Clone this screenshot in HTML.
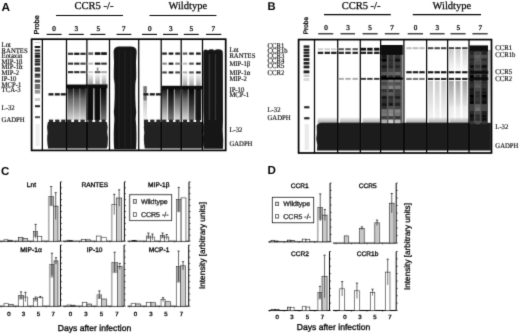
<!DOCTYPE html><html><head><meta charset="utf-8"><style>html,body{margin:0;padding:0;background:#fff;width:520px;height:334px;overflow:hidden}svg{display:block}</style></head><body>
<svg width="520" height="334" viewBox="0 0 520 334" text-rendering="geometricPrecision">
<defs><filter id="bl" x="-10%" y="-10%" width="120%" height="120%"><feGaussianBlur stdDeviation="0.5"/></filter><filter id="bl2" x="-10%" y="-10%" width="120%" height="120%"><feGaussianBlur stdDeviation="1"/></filter><filter id="tx" x="-5%" y="-5%" width="110%" height="110%"><feGaussianBlur stdDeviation="0.25"/></filter><linearGradient id="fd" x1="0" y1="0" x2="0" y2="1"><stop offset="0" stop-color="#000" stop-opacity="0.85"/><stop offset="0.35" stop-color="#000" stop-opacity="0.45"/><stop offset="1" stop-color="#000" stop-opacity="0.1"/></linearGradient><linearGradient id="fd2" x1="0" y1="0" x2="0" y2="1"><stop offset="0" stop-color="#000" stop-opacity="0.35"/><stop offset="1" stop-color="#000" stop-opacity="0.05"/></linearGradient><linearGradient id="fd3" x1="0" y1="0" x2="0" y2="1"><stop offset="0" stop-color="#000" stop-opacity="0.95"/><stop offset="0.5" stop-color="#000" stop-opacity="0.75"/><stop offset="1" stop-color="#000" stop-opacity="0.5"/></linearGradient><linearGradient id="fd4" x1="0" y1="0" x2="0" y2="1"><stop offset="0" stop-color="#000" stop-opacity="0.2"/><stop offset="1" stop-color="#000" stop-opacity="0.03"/></linearGradient><linearGradient id="fu" x1="0" y1="0" x2="0" y2="1"><stop offset="0" stop-color="#000" stop-opacity="0.05"/><stop offset="1" stop-color="#000" stop-opacity="0.35"/></linearGradient><filter id="gb" x="0" y="0" width="520" height="334" filterUnits="userSpaceOnUse"><feConvolveMatrix order="3" kernelMatrix="1 6 1 6 36 6 1 6 1" divisor="64" edgeMode="duplicate"/></filter></defs>
<rect width="520" height="334" fill="#fff"/>
<g filter="url(#gb)">
<text x="1.4" y="11" font-size="11.8" font-family='"Liberation Sans", sans-serif' font-weight="bold" text-anchor="start" >A</text>
<text x="74.6" y="8.9" font-size="10.5" font-family='"Liberation Serif", serif' font-weight="normal" text-anchor="start" stroke="#000" stroke-width="0.25">CCR5 -/-</text>
<text x="168.4" y="9.2" font-size="10.5" font-family='"Liberation Serif", serif' font-weight="normal" text-anchor="start" stroke="#000" stroke-width="0.25">Wildtype</text>
<line x1="56" y1="15.5" x2="123" y2="15.5" stroke="#000" stroke-width="1.1" />
<line x1="149.5" y1="15.5" x2="216.4" y2="15.5" stroke="#000" stroke-width="1.1" />
<text x="54" y="30.7" font-size="7.2" font-family='"Liberation Serif", serif' font-weight="normal" text-anchor="middle" stroke="#000" stroke-width="0.3">0</text>
<text x="76.2" y="30.7" font-size="7.2" font-family='"Liberation Serif", serif' font-weight="normal" text-anchor="middle" stroke="#000" stroke-width="0.3">3</text>
<text x="98.2" y="30.7" font-size="7.2" font-family='"Liberation Serif", serif' font-weight="normal" text-anchor="middle" stroke="#000" stroke-width="0.3">5</text>
<text x="123.8" y="30.7" font-size="7.2" font-family='"Liberation Serif", serif' font-weight="normal" text-anchor="middle" stroke="#000" stroke-width="0.3">7</text>
<text x="149.8" y="30.7" font-size="7.2" font-family='"Liberation Serif", serif' font-weight="normal" text-anchor="middle" stroke="#000" stroke-width="0.3">0</text>
<text x="170.8" y="30.7" font-size="7.2" font-family='"Liberation Serif", serif' font-weight="normal" text-anchor="middle" stroke="#000" stroke-width="0.3">3</text>
<text x="191.2" y="30.7" font-size="7.2" font-family='"Liberation Serif", serif' font-weight="normal" text-anchor="middle" stroke="#000" stroke-width="0.3">5</text>
<text x="213.3" y="30.7" font-size="7.2" font-family='"Liberation Serif", serif' font-weight="normal" text-anchor="middle" stroke="#000" stroke-width="0.3">7</text>
<line x1="46.6" y1="34.4" x2="61.6" y2="34.4" stroke="#000" stroke-width="1.1" />
<line x1="68.8" y1="34.4" x2="83.8" y2="34.4" stroke="#000" stroke-width="1.1" />
<line x1="90.4" y1="34.4" x2="105.4" y2="34.4" stroke="#000" stroke-width="1.1" />
<line x1="116.6" y1="34.4" x2="131.3" y2="34.4" stroke="#000" stroke-width="1.1" />
<line x1="142" y1="34.4" x2="157" y2="34.4" stroke="#000" stroke-width="1.1" />
<line x1="163" y1="34.4" x2="178" y2="34.4" stroke="#000" stroke-width="1.1" />
<line x1="183.8" y1="34.4" x2="198.8" y2="34.4" stroke="#000" stroke-width="1.1" />
<line x1="206" y1="34.4" x2="221.3" y2="34.4" stroke="#000" stroke-width="1.1" />
<text transform="translate(39.4,34.4) rotate(-90)" font-size="7.2" font-family='"Liberation Sans", sans-serif' stroke="#000" stroke-width="0.3">Probe</text>
<g>
<rect x="34.80" y="42.00" width="5.40" height="1.00" fill="#c8c8c8" />
<rect x="34.80" y="46.00" width="5.40" height="2.00" fill="#191919" />
<rect x="34.80" y="49.50" width="5.40" height="2.00" fill="#1e1e1e" />
<rect x="34.80" y="52.60" width="5.40" height="2.00" fill="#282828" />
<rect x="34.80" y="55.00" width="5.40" height="2.80" fill="#1e1e1e" />
<rect x="34.80" y="58.70" width="5.40" height="2.00" fill="#282828" />
<rect x="34.80" y="60.80" width="5.40" height="1.80" fill="#282828" />
<rect x="34.80" y="63.20" width="5.40" height="2.40" fill="#232323" />
<rect x="34.80" y="67.40" width="5.40" height="2.00" fill="#2d2d2d" />
<rect x="34.80" y="69.30" width="5.40" height="2.40" fill="#2d2d2d" />
<rect x="34.80" y="73.50" width="5.40" height="3.80" fill="#373737" />
<rect x="34.80" y="76.50" width="5.40" height="1.50" fill="#787878" />
<rect x="34.80" y="79.60" width="5.40" height="3.00" fill="#4b4b4b" />
<rect x="34.80" y="84.00" width="5.40" height="5.20" fill="#6e6e6e" />
<rect x="34.80" y="90.00" width="5.40" height="3.60" fill="#969696" />
<rect x="34.80" y="98.00" width="5.40" height="3.00" fill="#cdcdcd" />
<rect x="35.00" y="105.20" width="5.00" height="2.00" fill="#282828" />
<rect x="35.00" y="116.20" width="5.00" height="2.00" fill="#505050" />
<rect x="35.50" y="124.00" width="4.20" height="22.00" fill="#eeeeee" />
<rect x="48.50" y="93.20" width="5.00" height="2.30" fill="#151515" />
<rect x="54.80" y="93.20" width="5.00" height="2.30" fill="#151515" />
<rect x="60.80" y="93.20" width="5.00" height="2.30" fill="#151515" />
<rect x="48.90" y="119.60" width="4.20" height="5.40" fill="#262626" />
<rect x="55.20" y="119.60" width="4.20" height="5.40" fill="#262626" />
<rect x="61.20" y="119.60" width="4.20" height="5.40" fill="#262626" />
<rect x="68.00" y="52.70" width="5.20" height="2.20" fill="#333" />
<rect x="68.00" y="62.60" width="5.20" height="2.10" fill="#333" />
<rect x="68.00" y="71.10" width="5.20" height="2.10" fill="#2a2a2a" />
<rect x="67.80" y="88.00" width="5.60" height="32.00" fill="url(#fd)" />
<rect x="74.20" y="52.70" width="5.20" height="2.20" fill="#111" />
<rect x="74.20" y="62.60" width="5.20" height="2.10" fill="#2a2a2a" />
<rect x="74.20" y="71.10" width="5.20" height="2.10" fill="#2a2a2a" />
<rect x="74.00" y="88.00" width="5.60" height="32.00" fill="url(#fd)" />
<rect x="80.40" y="52.70" width="5.20" height="2.20" fill="#2a2a2a" />
<rect x="80.40" y="62.60" width="5.20" height="2.10" fill="#444" />
<rect x="80.40" y="71.10" width="5.20" height="2.10" fill="#3a3a3a" />
<rect x="80.20" y="88.00" width="5.60" height="32.00" fill="url(#fd)" />
<rect x="66.80" y="88.00" width="19.80" height="32.00" fill="url(#fd2)" />
<rect x="66.50" y="84.50" width="20.30" height="3.80" fill="#111" />
<rect x="67.10" y="119.60" width="4.20" height="5.40" fill="#262626" />
<rect x="74.10" y="119.60" width="4.20" height="5.40" fill="#262626" />
<rect x="80.50" y="119.60" width="4.20" height="5.40" fill="#262626" />
<rect x="88.30" y="52.30" width="4.80" height="2.60" fill="#666" />
<rect x="88.30" y="62.60" width="4.80" height="2.10" fill="#bbb" />
<rect x="88.30" y="71.10" width="4.80" height="2.10" fill="#ccc" />
<rect x="88.40" y="74.00" width="4.60" height="10.00" fill="url(#fu)" />
<rect x="94.80" y="52.30" width="5.60" height="2.60" fill="#080808" />
<rect x="94.80" y="62.60" width="5.60" height="2.10" fill="#1a1a1a" />
<rect x="94.80" y="71.10" width="5.60" height="2.10" fill="#555" />
<rect x="95.30" y="74.00" width="4.60" height="10.00" fill="url(#fu)" />
<rect x="101.20" y="52.30" width="5.60" height="2.60" fill="#080808" />
<rect x="101.20" y="62.60" width="5.60" height="2.10" fill="#333" />
<rect x="101.20" y="71.10" width="5.60" height="2.10" fill="#aaa" />
<rect x="101.70" y="74.00" width="4.60" height="10.00" fill="url(#fu)" />
<rect x="96.80" y="67.50" width="1.60" height="5.00" fill="#888" />
<rect x="87.30" y="88.00" width="20.00" height="32.00" fill="url(#fd2)" />
<rect x="87.10" y="84.30" width="20.40" height="4.00" fill="#111" />
<rect x="87.50" y="88.00" width="5.60" height="32.00" fill="#111" />
<rect x="94.50" y="88.00" width="5.60" height="32.00" fill="#111" />
<rect x="100.80" y="88.00" width="5.60" height="32.00" fill="url(#fd3)" />
<rect x="88.20" y="119.60" width="4.20" height="5.40" fill="#262626" />
<rect x="95.20" y="119.60" width="4.20" height="5.40" fill="#262626" />
<rect x="101.50" y="119.60" width="4.20" height="5.40" fill="#262626" />
<path d="M47.9,122 L106.8,122 Q108.39999999999999,127 107.2,132 Q108.6,138 107.6,145.6 L106.6,148.6 L48.1,148.6 Q46.5,139 47.6,133 Q46.3,127 47.9,122 Z" fill="#242424"/>
<path d="M144.6,122 L203,122 Q204.6,127 203.4,132 Q204.8,138 203.8,145.4 L202.8,148.4 L144.79999999999998,148.4 Q143.2,139 144.29999999999998,133 Q143.0,127 144.6,122 Z" fill="#242424"/>
<path d="M113.6,52 Q113.8,46.8 118.5,46.6 L131.5,46.6 Q136.6,46.8 136.6,52 Q135.6,62 136.2,72 Q136.6,78 135.4,84 Q135,100 136.2,112 Q135.2,118 136.2,126 Q136.8,140 136,149.2 L114.2,149.2 Q113.4,140 114,126 Q114.8,118 113.8,112 Q115,100 114.6,84 Q113.4,78 113.8,72 Q114.4,62 113.6,52 Z" fill="#181818"/>
<rect x="118.60" y="50.00" width="0.80" height="98.00" fill="#262626" />
<rect x="124.60" y="50.00" width="0.80" height="98.00" fill="#262626" />
<rect x="130.60" y="50.00" width="0.80" height="98.00" fill="#262626" />
<rect x="143.20" y="86.00" width="3.80" height="34.00" fill="url(#fd2)" />
<rect x="143.60" y="86.50" width="3.00" height="14.00" fill="#777" />
<rect x="143.50" y="93.20" width="5.00" height="2.30" fill="#151515" />
<rect x="149.80" y="93.20" width="5.00" height="2.30" fill="#151515" />
<rect x="155.90" y="93.20" width="5.00" height="2.30" fill="#151515" />
<rect x="143.90" y="119.60" width="4.20" height="5.40" fill="#262626" />
<rect x="150.20" y="119.60" width="4.20" height="5.40" fill="#262626" />
<rect x="156.30" y="119.60" width="4.20" height="5.40" fill="#262626" />
<rect x="162.20" y="52.50" width="4.60" height="2.20" fill="#1a1a1a" />
<rect x="162.20" y="62.60" width="4.60" height="2.10" fill="#888" />
<rect x="162.20" y="71.40" width="4.60" height="2.10" fill="#444" />
<rect x="168.70" y="52.50" width="4.60" height="2.20" fill="#111" />
<rect x="168.70" y="62.60" width="4.60" height="2.10" fill="#151515" />
<rect x="168.70" y="71.40" width="4.60" height="2.10" fill="#151515" />
<rect x="175.30" y="52.50" width="4.60" height="2.20" fill="#1a1a1a" />
<rect x="175.30" y="62.60" width="4.60" height="2.10" fill="#777" />
<rect x="175.30" y="71.40" width="4.60" height="2.10" fill="#444" />
<rect x="161.40" y="89.00" width="5.60" height="31.00" fill="url(#fd)" />
<rect x="168.20" y="89.00" width="5.60" height="31.00" fill="url(#fd3)" />
<rect x="174.80" y="89.00" width="5.60" height="31.00" fill="url(#fd)" />
<rect x="161.70" y="89.00" width="19.30" height="31.00" fill="url(#fd2)" />
<rect x="161.70" y="85.80" width="19.30" height="3.40" fill="#111" />
<rect x="162.10" y="119.60" width="4.20" height="5.40" fill="#262626" />
<rect x="168.90" y="119.60" width="4.20" height="5.40" fill="#262626" />
<rect x="175.50" y="119.60" width="4.20" height="5.40" fill="#262626" />
<rect x="182.70" y="52.50" width="4.60" height="2.20" fill="#555" />
<rect x="182.70" y="62.60" width="4.60" height="2.10" fill="#bbb" />
<rect x="182.70" y="71.40" width="4.60" height="2.10" fill="#aaa" />
<rect x="182.70" y="74.00" width="4.60" height="12.00" fill="url(#fu)" />
<rect x="189.20" y="52.50" width="4.60" height="2.20" fill="#1a1a1a" />
<rect x="189.20" y="62.60" width="4.60" height="2.10" fill="#555" />
<rect x="189.20" y="71.40" width="4.60" height="2.10" fill="#555" />
<rect x="189.20" y="74.00" width="4.60" height="12.00" fill="url(#fu)" />
<rect x="196.10" y="52.50" width="4.60" height="2.20" fill="#0a0a0a" />
<rect x="196.10" y="62.60" width="4.60" height="2.10" fill="#151515" />
<rect x="196.10" y="71.40" width="4.60" height="2.10" fill="#151515" />
<rect x="196.10" y="74.00" width="4.60" height="12.00" fill="url(#fu)" />
<rect x="182.20" y="89.00" width="5.60" height="31.00" fill="url(#fd)" />
<rect x="188.70" y="89.00" width="5.60" height="31.00" fill="url(#fd3)" />
<rect x="195.40" y="89.00" width="5.60" height="31.00" fill="#1a1a1a" />
<rect x="181.70" y="89.00" width="20.60" height="31.00" fill="url(#fd2)" />
<rect x="181.70" y="85.80" width="20.60" height="3.40" fill="#111" />
<rect x="182.90" y="119.60" width="4.20" height="5.40" fill="#262626" />
<rect x="189.40" y="119.60" width="4.20" height="5.40" fill="#262626" />
<rect x="196.10" y="119.60" width="4.20" height="5.40" fill="#262626" />
<path d="M203.3,52 Q203.3,49.6 205.4,49.4 Q207.2,49.4 208,50.6 Q209,49.2 211.3,49.2 Q213.6,49.2 214.6,50.6 Q215.6,49.2 218.2,49.2 Q220.6,49.2 221.6,50 Q222.8,50.4 222.8,53 L223,120 Q222.2,130 223.2,140 L223,148.8 L203.6,148.8 Q204.2,140 203.2,130 Q204,120 203.3,110 Z" fill="#141414"/>
<rect x="208.80" y="54.00" width="1.00" height="66.00" fill="#3a3a3a" />
<rect x="215.10" y="54.00" width="1.00" height="66.00" fill="#3a3a3a" />
</g>
<rect x="31.6" y="39.2" width="194.1" height="111.2" fill="none" stroke="#000" stroke-width="1.7"/>
<line x1="42.35" y1="39.2" x2="42.35" y2="150.4" stroke="#000" stroke-width="1.25" />
<line x1="66.5" y1="39.2" x2="66.5" y2="150.4" stroke="#000" stroke-width="1.25" />
<line x1="86.9" y1="39.2" x2="86.9" y2="150.4" stroke="#000" stroke-width="1.25" />
<line x1="109.5" y1="39.2" x2="109.5" y2="150.4" stroke="#000" stroke-width="1.25" />
<line x1="138.7" y1="39.2" x2="138.7" y2="150.4" stroke="#000" stroke-width="1.25" />
<line x1="161.2" y1="39.2" x2="161.2" y2="150.4" stroke="#000" stroke-width="1.25" />
<line x1="181.2" y1="39.2" x2="181.2" y2="150.4" stroke="#000" stroke-width="1.25" />
<line x1="202.5" y1="39.2" x2="202.5" y2="150.4" stroke="#000" stroke-width="1.25" />
<text transform="translate(1.6,47.2) scale(0.93,1)" font-size="7.2" font-family='"Liberation Serif", serif' font-weight="normal" text-anchor="start" stroke="#000" stroke-width="0.15">Lnt</text>
<text transform="translate(1.6,52.6) scale(0.93,1)" font-size="7.2" font-family='"Liberation Serif", serif' font-weight="normal" text-anchor="start" stroke="#000" stroke-width="0.15">RANTES</text>
<text transform="translate(1.6,57.5) scale(0.93,1)" font-size="7.2" font-family='"Liberation Serif", serif' font-weight="normal" text-anchor="start" stroke="#000" stroke-width="0.15">Eotaxin</text>
<text transform="translate(1.6,64) scale(0.93,1)" font-size="7.2" font-family='"Liberation Serif", serif' font-weight="normal" text-anchor="start" stroke="#000" stroke-width="0.15">MIP-1&#946;</text>
<text transform="translate(1.6,68.7) scale(0.93,1)" font-size="7.2" font-family='"Liberation Serif", serif' font-weight="normal" text-anchor="start" stroke="#000" stroke-width="0.15">MIP-1&#945;</text>
<text transform="translate(1.6,74.8) scale(0.93,1)" font-size="7.2" font-family='"Liberation Serif", serif' font-weight="normal" text-anchor="start" stroke="#000" stroke-width="0.15">MIP-2</text>
<text transform="translate(1.6,81.2) scale(0.93,1)" font-size="7.2" font-family='"Liberation Serif", serif' font-weight="normal" text-anchor="start" stroke="#000" stroke-width="0.15">IP-10</text>
<text transform="translate(1.6,86.5) scale(0.93,1)" font-size="7.2" font-family='"Liberation Serif", serif' font-weight="normal" text-anchor="start" stroke="#000" stroke-width="0.15">MCP-1</text>
<text transform="translate(1.6,92.3) scale(0.93,1)" font-size="7.2" font-family='"Liberation Serif", serif' font-weight="normal" text-anchor="start" stroke="#000" stroke-width="0.15">TCA-3</text>
<text transform="translate(1.6,110.2) scale(0.93,1)" font-size="7.2" font-family='"Liberation Serif", serif' font-weight="normal" text-anchor="start" stroke="#000" stroke-width="0.15">L-32</text>
<text transform="translate(1.6,122.2) scale(0.93,1)" font-size="7.2" font-family='"Liberation Serif", serif' font-weight="normal" text-anchor="start" stroke="#000" stroke-width="0.15">GADPH</text>
<text transform="translate(229.4,52.2) scale(0.93,1)" font-size="7.2" font-family='"Liberation Serif", serif' font-weight="normal" text-anchor="start" stroke="#000" stroke-width="0.15">Lnt</text>
<text transform="translate(229.4,58.3) scale(0.93,1)" font-size="7.2" font-family='"Liberation Serif", serif' font-weight="normal" text-anchor="start" stroke="#000" stroke-width="0.15">RANTES</text>
<text transform="translate(229.4,66.2) scale(0.93,1)" font-size="7.2" font-family='"Liberation Serif", serif' font-weight="normal" text-anchor="start" stroke="#000" stroke-width="0.15">MIP-1&#946;</text>
<text transform="translate(229.4,75.3) scale(0.93,1)" font-size="7.2" font-family='"Liberation Serif", serif' font-weight="normal" text-anchor="start" stroke="#000" stroke-width="0.15">MIP-1&#945;</text>
<text transform="translate(229.4,80.7) scale(0.93,1)" font-size="7.2" font-family='"Liberation Serif", serif' font-weight="normal" text-anchor="start" stroke="#000" stroke-width="0.15">MIP-2</text>
<text transform="translate(229.4,91.8) scale(0.93,1)" font-size="7.2" font-family='"Liberation Serif", serif' font-weight="normal" text-anchor="start" stroke="#000" stroke-width="0.15">IP-10</text>
<text transform="translate(229.4,97.2) scale(0.93,1)" font-size="7.2" font-family='"Liberation Serif", serif' font-weight="normal" text-anchor="start" stroke="#000" stroke-width="0.15">MCP-1</text>
<text transform="translate(229.4,132.4) scale(0.93,1)" font-size="7.2" font-family='"Liberation Serif", serif' font-weight="normal" text-anchor="start" stroke="#000" stroke-width="0.15">L-32</text>
<text transform="translate(229.4,146.3) scale(0.93,1)" font-size="7.2" font-family='"Liberation Serif", serif' font-weight="normal" text-anchor="start" stroke="#000" stroke-width="0.15">GADPH</text>
<text x="267.6" y="10.3" font-size="11.2" font-family='"Liberation Sans", sans-serif' font-weight="bold" text-anchor="start" >B</text>
<text x="341.7" y="8.8" font-size="10.5" font-family='"Liberation Serif", serif' font-weight="normal" text-anchor="start" stroke="#000" stroke-width="0.25">CCR5 -/-</text>
<text x="432.5" y="8.8" font-size="10.5" font-family='"Liberation Serif", serif' font-weight="normal" text-anchor="start" stroke="#000" stroke-width="0.25">Wildtype</text>
<line x1="324" y1="14.6" x2="390.8" y2="14.6" stroke="#000" stroke-width="1.1" />
<line x1="412.8" y1="14.6" x2="481" y2="14.6" stroke="#000" stroke-width="1.1" />
<text x="326" y="29.8" font-size="7.2" font-family='"Liberation Serif", serif' font-weight="normal" text-anchor="middle" stroke="#000" stroke-width="0.3">0</text>
<text x="348" y="29.8" font-size="7.2" font-family='"Liberation Serif", serif' font-weight="normal" text-anchor="middle" stroke="#000" stroke-width="0.3">3</text>
<text x="370" y="29.8" font-size="7.2" font-family='"Liberation Serif", serif' font-weight="normal" text-anchor="middle" stroke="#000" stroke-width="0.3">5</text>
<text x="392" y="29.8" font-size="7.2" font-family='"Liberation Serif", serif' font-weight="normal" text-anchor="middle" stroke="#000" stroke-width="0.3">7</text>
<text x="415.5" y="29.8" font-size="7.2" font-family='"Liberation Serif", serif' font-weight="normal" text-anchor="middle" stroke="#000" stroke-width="0.3">0</text>
<text x="437.2" y="29.8" font-size="7.2" font-family='"Liberation Serif", serif' font-weight="normal" text-anchor="middle" stroke="#000" stroke-width="0.3">3</text>
<text x="458.2" y="29.8" font-size="7.2" font-family='"Liberation Serif", serif' font-weight="normal" text-anchor="middle" stroke="#000" stroke-width="0.3">5</text>
<text x="480.2" y="29.8" font-size="7.2" font-family='"Liberation Serif", serif' font-weight="normal" text-anchor="middle" stroke="#000" stroke-width="0.3">7</text>
<line x1="318.2" y1="33.8" x2="333.2" y2="33.8" stroke="#000" stroke-width="1.1" />
<line x1="340.5" y1="33.8" x2="355" y2="33.8" stroke="#000" stroke-width="1.1" />
<line x1="362.6" y1="33.8" x2="377.7" y2="33.8" stroke="#000" stroke-width="1.1" />
<line x1="384.8" y1="33.8" x2="399.4" y2="33.8" stroke="#000" stroke-width="1.1" />
<line x1="407.7" y1="33.8" x2="423" y2="33.8" stroke="#000" stroke-width="1.1" />
<line x1="429.8" y1="33.8" x2="444.6" y2="33.8" stroke="#000" stroke-width="1.1" />
<line x1="450.5" y1="33.8" x2="465.6" y2="33.8" stroke="#000" stroke-width="1.1" />
<line x1="472.4" y1="33.8" x2="487.7" y2="33.8" stroke="#000" stroke-width="1.1" />
<text transform="translate(308,34.3) rotate(-90)" font-size="6.5" font-family='"Liberation Sans", sans-serif' stroke="#000" stroke-width="0.3">Probe</text>
<g>
<rect x="303.60" y="45.40" width="5.80" height="2.40" fill="#1e1e1e" />
<rect x="303.60" y="48.70" width="5.80" height="2.30" fill="#232323" />
<rect x="303.60" y="51.50" width="5.80" height="2.30" fill="#1e1e1e" />
<rect x="303.60" y="54.50" width="5.80" height="2.60" fill="#1e1e1e" />
<rect x="303.60" y="58.20" width="5.80" height="2.70" fill="#1e1e1e" />
<rect x="303.60" y="61.90" width="5.80" height="2.70" fill="#1e1e1e" />
<rect x="303.60" y="65.60" width="5.80" height="2.80" fill="#232323" />
<rect x="303.60" y="70.40" width="5.80" height="3.00" fill="#1e1e1e" />
<rect x="303.60" y="74.50" width="5.80" height="2.50" fill="#c8c8c8" />
<rect x="303.60" y="78.00" width="5.80" height="3.00" fill="#dcdcdc" />
<rect x="304.20" y="106.20" width="5.20" height="2.10" fill="#232323" />
<rect x="304.20" y="117.20" width="5.20" height="2.10" fill="#232323" />
<rect x="304.60" y="124.00" width="4.40" height="26.00" fill="#ebebeb" />
<path d="M316.6,126 Q317.6,122.8 321.5,122.8 L490.8,122.8 L490.8,150.4 L317,150.4 Q318,145 316.2,139 Q317.4,133 316.6,126 Z" fill="#1c1c1c"/>
<rect x="317.60" y="117.50" width="20.00" height="5.50" fill="url(#fu)" />
<rect x="340.00" y="117.50" width="20.00" height="5.50" fill="url(#fu)" />
<rect x="362.50" y="117.50" width="20.00" height="5.50" fill="url(#fu)" />
<rect x="406.00" y="117.50" width="20.00" height="5.50" fill="url(#fu)" />
<rect x="428.60" y="117.50" width="20.00" height="5.50" fill="url(#fu)" />
<rect x="449.60" y="117.50" width="20.00" height="5.50" fill="url(#fu)" />
<rect x="317.80" y="48.30" width="5.40" height="1.80" fill="#ccc" />
<rect x="317.80" y="51.70" width="5.40" height="2.30" fill="#222" />
<rect x="324.60" y="48.30" width="5.40" height="1.80" fill="#ccc" />
<rect x="324.60" y="51.70" width="5.40" height="2.30" fill="#222" />
<rect x="331.10" y="48.30" width="5.40" height="1.80" fill="#ccc" />
<rect x="331.10" y="51.70" width="5.40" height="2.30" fill="#222" />
<rect x="338.50" y="48.20" width="5.40" height="2.00" fill="#555" />
<rect x="338.50" y="51.70" width="5.40" height="2.30" fill="#2a2a2a" />
<rect x="338.50" y="77.90" width="5.40" height="1.90" fill="#aaa" />
<rect x="345.30" y="48.20" width="5.40" height="2.00" fill="#555" />
<rect x="345.30" y="51.70" width="5.40" height="2.30" fill="#2a2a2a" />
<rect x="345.30" y="77.90" width="5.40" height="1.90" fill="#aaa" />
<rect x="352.50" y="48.20" width="5.40" height="2.00" fill="#555" />
<rect x="352.50" y="51.70" width="5.40" height="2.30" fill="#2a2a2a" />
<rect x="352.50" y="77.90" width="5.40" height="1.90" fill="#aaa" />
<rect x="360.70" y="47.80" width="5.40" height="2.80" fill="#111" />
<rect x="360.70" y="51.70" width="5.40" height="2.30" fill="#1a1a1a" />
<rect x="360.70" y="77.90" width="5.40" height="1.90" fill="#333" />
<rect x="367.20" y="47.80" width="5.40" height="2.80" fill="#111" />
<rect x="367.20" y="51.70" width="5.40" height="2.30" fill="#1a1a1a" />
<rect x="367.20" y="77.90" width="5.40" height="1.90" fill="#333" />
<rect x="374.10" y="47.80" width="5.40" height="2.80" fill="#111" />
<rect x="374.10" y="51.70" width="5.40" height="2.30" fill="#1a1a1a" />
<rect x="374.10" y="77.90" width="5.40" height="1.90" fill="#333" />
<rect x="381.2" y="45" width="21.4" height="78" fill="#5a5a5a"/>
<rect x="381.20" y="45.00" width="21.40" height="10.00" fill="#0c0c0c" />
<rect x="381.50" y="55.00" width="5.40" height="3.40" fill="#171717" />
<rect x="388.40" y="55.00" width="4.80" height="3.40" fill="#353535" />
<rect x="394.80" y="55.00" width="5.60" height="3.40" fill="#353535" />
<rect x="381.50" y="58.40" width="5.40" height="3.40" fill="#040404" />
<rect x="388.40" y="58.40" width="4.80" height="3.40" fill="#2c2c2c" />
<rect x="394.80" y="58.40" width="5.60" height="3.40" fill="#0e0e0e" />
<rect x="381.50" y="61.80" width="5.40" height="3.40" fill="#313131" />
<rect x="388.40" y="61.80" width="4.80" height="3.40" fill="#313131" />
<rect x="394.80" y="61.80" width="5.60" height="3.40" fill="#3b3b3b" />
<rect x="381.50" y="65.20" width="5.40" height="3.40" fill="#131313" />
<rect x="388.40" y="65.20" width="4.80" height="3.40" fill="#272727" />
<rect x="394.80" y="65.20" width="5.60" height="3.40" fill="#272727" />
<rect x="381.50" y="68.60" width="5.40" height="3.40" fill="#333333" />
<rect x="388.40" y="68.60" width="4.80" height="3.40" fill="#474747" />
<rect x="394.80" y="68.60" width="5.60" height="3.40" fill="#3d3d3d" />
<rect x="381.50" y="72.00" width="5.40" height="3.40" fill="#565656" />
<rect x="388.40" y="72.00" width="4.80" height="3.40" fill="#606060" />
<rect x="394.80" y="72.00" width="5.60" height="3.40" fill="#6a6a6a" />
<rect x="381.50" y="75.40" width="5.40" height="3.40" fill="#040404" />
<rect x="388.40" y="75.40" width="4.80" height="3.40" fill="#2c2c2c" />
<rect x="394.80" y="75.40" width="5.60" height="3.40" fill="#222222" />
<rect x="381.50" y="78.80" width="5.40" height="3.40" fill="#595959" />
<rect x="388.40" y="78.80" width="4.80" height="3.40" fill="#818181" />
<rect x="394.80" y="78.80" width="5.60" height="3.40" fill="#777777" />
<rect x="381.50" y="82.20" width="5.40" height="3.40" fill="#444444" />
<rect x="388.40" y="82.20" width="4.80" height="3.40" fill="#585858" />
<rect x="394.80" y="82.20" width="5.60" height="3.40" fill="#4e4e4e" />
<rect x="381.50" y="85.60" width="5.40" height="3.40" fill="#656565" />
<rect x="388.40" y="85.60" width="4.80" height="3.40" fill="#838383" />
<rect x="394.80" y="85.60" width="5.60" height="3.40" fill="#797979" />
<rect x="381.50" y="89.00" width="5.40" height="3.40" fill="#323232" />
<rect x="388.40" y="89.00" width="4.80" height="3.40" fill="#323232" />
<rect x="394.80" y="89.00" width="5.60" height="3.40" fill="#3c3c3c" />
<rect x="381.50" y="92.40" width="5.40" height="3.40" fill="#4a4a4a" />
<rect x="388.40" y="92.40" width="4.80" height="3.40" fill="#5e5e5e" />
<rect x="394.80" y="92.40" width="5.60" height="3.40" fill="#404040" />
<rect x="381.50" y="95.80" width="5.40" height="3.40" fill="#181818" />
<rect x="388.40" y="95.80" width="4.80" height="3.40" fill="#2c2c2c" />
<rect x="394.80" y="95.80" width="5.60" height="3.40" fill="#222222" />
<rect x="381.50" y="99.20" width="5.40" height="3.40" fill="#2c2c2c" />
<rect x="388.40" y="99.20" width="4.80" height="3.40" fill="#363636" />
<rect x="394.80" y="99.20" width="5.60" height="3.40" fill="#404040" />
<rect x="381.50" y="102.60" width="5.40" height="3.40" fill="#181818" />
<rect x="388.40" y="102.60" width="4.80" height="3.40" fill="#181818" />
<rect x="394.80" y="102.60" width="5.60" height="3.40" fill="#222222" />
<rect x="381.50" y="106.00" width="5.40" height="3.40" fill="#2f2f2f" />
<rect x="388.40" y="106.00" width="4.80" height="3.40" fill="#4d4d4d" />
<rect x="394.80" y="106.00" width="5.60" height="3.40" fill="#434343" />
<rect x="381.50" y="109.40" width="5.40" height="3.40" fill="#717171" />
<rect x="388.40" y="109.40" width="4.80" height="3.40" fill="#858585" />
<rect x="394.80" y="109.40" width="5.60" height="3.40" fill="#858585" />
<rect x="381.50" y="112.80" width="5.40" height="3.40" fill="#757575" />
<rect x="388.40" y="112.80" width="4.80" height="3.40" fill="#898989" />
<rect x="394.80" y="112.80" width="5.60" height="3.40" fill="#757575" />
<rect x="381.50" y="116.20" width="5.40" height="3.40" fill="#3e3e3e" />
<rect x="388.40" y="116.20" width="4.80" height="3.40" fill="#3e3e3e" />
<rect x="394.80" y="116.20" width="5.60" height="3.40" fill="#343434" />
<rect x="381.50" y="119.60" width="5.40" height="3.40" fill="#acacac" />
<rect x="388.40" y="119.60" width="4.80" height="3.40" fill="#cacaca" />
<rect x="394.80" y="119.60" width="5.60" height="3.40" fill="#b6b6b6" />
<rect x="381.20" y="77.20" width="21.40" height="2.80" fill="#060606" />
<rect x="406.30" y="47.20" width="5.40" height="2.00" fill="#bbb" />
<rect x="406.30" y="71.20" width="5.40" height="2.10" fill="#151515" />
<rect x="406.30" y="77.90" width="5.40" height="2.10" fill="#777" />
<rect x="412.80" y="47.20" width="5.40" height="2.00" fill="#bbb" />
<rect x="412.80" y="71.20" width="5.40" height="2.10" fill="#151515" />
<rect x="412.80" y="77.90" width="5.40" height="2.10" fill="#777" />
<rect x="419.30" y="47.20" width="5.40" height="2.00" fill="#bbb" />
<rect x="419.30" y="71.20" width="5.40" height="2.10" fill="#151515" />
<rect x="419.30" y="77.90" width="5.40" height="2.10" fill="#777" />
<rect x="427.90" y="47.20" width="5.40" height="2.00" fill="#444" />
<rect x="427.90" y="71.20" width="5.40" height="2.10" fill="#111" />
<rect x="427.90" y="77.90" width="5.40" height="2.10" fill="#2a2a2a" />
<rect x="434.50" y="47.20" width="5.40" height="2.00" fill="#444" />
<rect x="434.50" y="71.20" width="5.40" height="2.10" fill="#111" />
<rect x="434.50" y="77.90" width="5.40" height="2.10" fill="#2a2a2a" />
<rect x="441.00" y="47.20" width="5.40" height="2.00" fill="#444" />
<rect x="441.00" y="71.20" width="5.40" height="2.10" fill="#111" />
<rect x="441.00" y="77.90" width="5.40" height="2.10" fill="#2a2a2a" />
<rect x="448.70" y="47.20" width="5.40" height="2.00" fill="#3a3a3a" />
<rect x="448.70" y="71.20" width="5.40" height="2.10" fill="#111" />
<rect x="448.70" y="77.90" width="5.40" height="2.10" fill="#222" />
<rect x="455.30" y="47.20" width="5.40" height="2.00" fill="#3a3a3a" />
<rect x="455.30" y="71.20" width="5.40" height="2.10" fill="#111" />
<rect x="455.30" y="77.90" width="5.40" height="2.10" fill="#222" />
<rect x="462.10" y="47.20" width="5.40" height="2.00" fill="#3a3a3a" />
<rect x="462.10" y="71.20" width="5.40" height="2.10" fill="#111" />
<rect x="462.10" y="77.90" width="5.40" height="2.10" fill="#222" />
<rect x="428.20" y="81.00" width="4.80" height="40.00" fill="url(#fd4)" />
<rect x="434.80" y="81.00" width="4.80" height="40.00" fill="url(#fd4)" />
<rect x="441.30" y="81.00" width="4.80" height="40.00" fill="url(#fd4)" />
<rect x="449.00" y="81.00" width="4.80" height="40.00" fill="url(#fd4)" />
<rect x="449.00" y="81.00" width="4.80" height="25.00" fill="url(#fd4)" />
<rect x="449.00" y="50.00" width="4.80" height="20.00" fill="url(#fd4)" />
<rect x="455.60" y="81.00" width="4.80" height="40.00" fill="url(#fd4)" />
<rect x="455.60" y="81.00" width="4.80" height="25.00" fill="url(#fd4)" />
<rect x="455.60" y="50.00" width="4.80" height="20.00" fill="url(#fd4)" />
<rect x="462.40" y="81.00" width="4.80" height="40.00" fill="url(#fd4)" />
<rect x="462.40" y="81.00" width="4.80" height="25.00" fill="url(#fd4)" />
<rect x="462.40" y="50.00" width="4.80" height="20.00" fill="url(#fd4)" />
<rect x="469.6" y="45.6" width="18.4" height="77.4" fill="#555"/>
<rect x="469.60" y="45.60" width="18.40" height="6.00" fill="#0e0e0e" />
<rect x="469.70" y="51.60" width="4.40" height="3.30" fill="#262626" />
<rect x="475.20" y="51.60" width="5.00" height="3.30" fill="#464646" />
<rect x="481.50" y="51.60" width="5.40" height="3.30" fill="#232323" />
<rect x="469.70" y="54.90" width="4.40" height="3.30" fill="#393939" />
<rect x="475.20" y="54.90" width="5.00" height="3.30" fill="#616161" />
<rect x="481.50" y="54.90" width="5.40" height="3.30" fill="#4e4e4e" />
<rect x="469.70" y="58.20" width="4.40" height="3.30" fill="#252525" />
<rect x="475.20" y="58.20" width="5.00" height="3.30" fill="#555555" />
<rect x="481.50" y="58.20" width="5.40" height="3.30" fill="#2a2a2a" />
<rect x="469.70" y="61.50" width="4.40" height="3.30" fill="#2d2d2d" />
<rect x="475.20" y="61.50" width="5.00" height="3.30" fill="#4d4d4d" />
<rect x="481.50" y="61.50" width="5.40" height="3.30" fill="#3a3a3a" />
<rect x="469.70" y="64.80" width="4.40" height="3.30" fill="#0d0d0d" />
<rect x="475.20" y="64.80" width="5.00" height="3.30" fill="#353535" />
<rect x="481.50" y="64.80" width="5.40" height="3.30" fill="#0a0a0a" />
<rect x="469.70" y="68.10" width="4.40" height="3.30" fill="#262626" />
<rect x="475.20" y="68.10" width="5.00" height="3.30" fill="#464646" />
<rect x="481.50" y="68.10" width="5.40" height="3.30" fill="#2b2b2b" />
<rect x="469.70" y="71.40" width="4.40" height="3.30" fill="#353535" />
<rect x="475.20" y="71.40" width="5.00" height="3.30" fill="#555555" />
<rect x="481.50" y="71.40" width="5.40" height="3.30" fill="#2a2a2a" />
<rect x="469.70" y="74.70" width="4.40" height="3.30" fill="#050505" />
<rect x="475.20" y="74.70" width="5.00" height="3.30" fill="#2d2d2d" />
<rect x="481.50" y="74.70" width="5.40" height="3.30" fill="#121212" />
<rect x="469.70" y="78.00" width="4.40" height="3.30" fill="#000000" />
<rect x="475.20" y="78.00" width="5.00" height="3.30" fill="#353535" />
<rect x="481.50" y="78.00" width="5.40" height="3.30" fill="#121212" />
<rect x="469.70" y="81.30" width="4.40" height="3.30" fill="#262626" />
<rect x="475.20" y="81.30" width="5.00" height="3.30" fill="#4e4e4e" />
<rect x="481.50" y="81.30" width="5.40" height="3.30" fill="#2b2b2b" />
<rect x="469.70" y="84.60" width="4.40" height="3.30" fill="#2d2d2d" />
<rect x="475.20" y="84.60" width="5.00" height="3.30" fill="#5d5d5d" />
<rect x="481.50" y="84.60" width="5.40" height="3.30" fill="#323232" />
<rect x="469.70" y="87.90" width="4.40" height="3.30" fill="#161616" />
<rect x="475.20" y="87.90" width="5.00" height="3.30" fill="#464646" />
<rect x="481.50" y="87.90" width="5.40" height="3.30" fill="#232323" />
<rect x="469.70" y="91.20" width="4.40" height="3.30" fill="#171717" />
<rect x="475.20" y="91.20" width="5.00" height="3.30" fill="#2f2f2f" />
<rect x="481.50" y="91.20" width="5.40" height="3.30" fill="#141414" />
<rect x="469.70" y="94.50" width="4.40" height="3.30" fill="#000000" />
<rect x="475.20" y="94.50" width="5.00" height="3.30" fill="#2d2d2d" />
<rect x="481.50" y="94.50" width="5.40" height="3.30" fill="#020202" />
<rect x="469.70" y="97.80" width="4.40" height="3.30" fill="#0f0f0f" />
<rect x="475.20" y="97.80" width="5.00" height="3.30" fill="#373737" />
<rect x="481.50" y="97.80" width="5.40" height="3.30" fill="#141414" />
<rect x="469.70" y="101.10" width="4.40" height="3.30" fill="#000000" />
<rect x="475.20" y="101.10" width="5.00" height="3.30" fill="#2d2d2d" />
<rect x="481.50" y="101.10" width="5.40" height="3.30" fill="#0a0a0a" />
<rect x="469.70" y="104.40" width="4.40" height="3.30" fill="#414141" />
<rect x="475.20" y="104.40" width="5.00" height="3.30" fill="#616161" />
<rect x="481.50" y="104.40" width="5.40" height="3.30" fill="#464646" />
<rect x="469.70" y="107.70" width="4.40" height="3.30" fill="#414141" />
<rect x="475.20" y="107.70" width="5.00" height="3.30" fill="#717171" />
<rect x="481.50" y="107.70" width="5.40" height="3.30" fill="#464646" />
<rect x="469.70" y="111.00" width="4.40" height="3.30" fill="#262626" />
<rect x="475.20" y="111.00" width="5.00" height="3.30" fill="#464646" />
<rect x="481.50" y="111.00" width="5.40" height="3.30" fill="#1b1b1b" />
<rect x="469.70" y="114.30" width="4.40" height="3.30" fill="#070707" />
<rect x="475.20" y="114.30" width="5.00" height="3.30" fill="#2f2f2f" />
<rect x="481.50" y="114.30" width="5.40" height="3.30" fill="#0c0c0c" />
<rect x="469.70" y="117.60" width="4.40" height="3.30" fill="#171717" />
<rect x="475.20" y="117.60" width="5.00" height="3.30" fill="#2f2f2f" />
<rect x="481.50" y="117.60" width="5.40" height="3.30" fill="#0c0c0c" />
<rect x="469.70" y="120.90" width="4.40" height="3.30" fill="#353535" />
<rect x="475.20" y="120.90" width="5.00" height="3.30" fill="#4d4d4d" />
<rect x="481.50" y="120.90" width="5.40" height="3.30" fill="#323232" />
<rect x="487.60" y="50.00" width="3.40" height="72.00" fill="url(#fd2)" />
<rect x="469.60" y="70.80" width="18.60" height="3.00" fill="#080808" />
<rect x="469.60" y="77.40" width="18.60" height="2.60" fill="#080808" />
</g>
<rect x="298.6" y="39.6" width="192.9" height="113.4" fill="none" stroke="#000" stroke-width="1.7"/>
<line x1="314.5" y1="39.6" x2="314.5" y2="153" stroke="#000" stroke-width="1.25" />
<line x1="337.7" y1="39.6" x2="337.7" y2="153" stroke="#000" stroke-width="1.25" />
<line x1="360.3" y1="39.6" x2="360.3" y2="153" stroke="#000" stroke-width="1.25" />
<line x1="380.6" y1="39.6" x2="380.6" y2="153" stroke="#000" stroke-width="1.25" />
<line x1="403.9" y1="39.6" x2="403.9" y2="153" stroke="#000" stroke-width="1.25" />
<line x1="426.6" y1="39.6" x2="426.6" y2="153" stroke="#000" stroke-width="1.25" />
<line x1="447.6" y1="39.6" x2="447.6" y2="153" stroke="#000" stroke-width="1.25" />
<line x1="469.0" y1="39.6" x2="469.0" y2="153" stroke="#000" stroke-width="1.25" />
<text transform="translate(267.5,48.2) scale(0.93,1)" font-size="7.2" font-family='"Liberation Serif", serif' font-weight="normal" text-anchor="start" stroke="#000" stroke-width="0.15">CCR1</text>
<text transform="translate(267.5,53.1) scale(0.93,1)" font-size="7.2" font-family='"Liberation Serif", serif' font-weight="normal" text-anchor="start" stroke="#000" stroke-width="0.15">CCR1b</text>
<text transform="translate(267.5,58.1) scale(0.93,1)" font-size="7.2" font-family='"Liberation Serif", serif' font-weight="normal" text-anchor="start" stroke="#000" stroke-width="0.15">CCR3</text>
<text transform="translate(267.5,63.1) scale(0.93,1)" font-size="7.2" font-family='"Liberation Serif", serif' font-weight="normal" text-anchor="start" stroke="#000" stroke-width="0.15">CCR4</text>
<text transform="translate(267.5,68.1) scale(0.93,1)" font-size="7.2" font-family='"Liberation Serif", serif' font-weight="normal" text-anchor="start" stroke="#000" stroke-width="0.15">CCR5</text>
<text transform="translate(267.5,75.1) scale(0.93,1)" font-size="7.2" font-family='"Liberation Serif", serif' font-weight="normal" text-anchor="start" stroke="#000" stroke-width="0.15">CCR2</text>
<text transform="translate(267.5,112.3) scale(0.93,1)" font-size="7.2" font-family='"Liberation Serif", serif' font-weight="normal" text-anchor="start" stroke="#000" stroke-width="0.15">L-32</text>
<text transform="translate(267.5,120.4) scale(0.93,1)" font-size="7.2" font-family='"Liberation Serif", serif' font-weight="normal" text-anchor="start" stroke="#000" stroke-width="0.15">GADPH</text>
<text transform="translate(495.3,50.3) scale(0.93,1)" font-size="7.2" font-family='"Liberation Serif", serif' font-weight="normal" text-anchor="start" stroke="#000" stroke-width="0.15">CCR1</text>
<text transform="translate(495.3,56.7) scale(0.93,1)" font-size="7.2" font-family='"Liberation Serif", serif' font-weight="normal" text-anchor="start" stroke="#000" stroke-width="0.15">CCR1b</text>
<text transform="translate(495.3,74.1) scale(0.93,1)" font-size="7.2" font-family='"Liberation Serif", serif' font-weight="normal" text-anchor="start" stroke="#000" stroke-width="0.15">CCR5</text>
<text transform="translate(495.3,81.1) scale(0.93,1)" font-size="7.2" font-family='"Liberation Serif", serif' font-weight="normal" text-anchor="start" stroke="#000" stroke-width="0.15">CCR2</text>
<text transform="translate(495.3,129.2) scale(0.93,1)" font-size="7.2" font-family='"Liberation Serif", serif' font-weight="normal" text-anchor="start" stroke="#000" stroke-width="0.15">L-32</text>
<text transform="translate(495.3,147.5) scale(0.93,1)" font-size="7.2" font-family='"Liberation Serif", serif' font-weight="normal" text-anchor="start" stroke="#000" stroke-width="0.15">GADPH</text>
<text x="0.9" y="175" font-size="11.5" font-family='"Liberation Sans", sans-serif' font-weight="bold" text-anchor="start" >C</text>
<text x="267.6" y="173.8" font-size="11.6" font-family='"Liberation Sans", sans-serif' font-weight="bold" text-anchor="start" >D</text>
<line x1="0" y1="241.2" x2="60.5" y2="241.2" stroke="#000" stroke-width="1.0" />
<line x1="60.5" y1="181.8" x2="60.5" y2="241.2" stroke="#000" stroke-width="1.0" />
<line x1="60.5" y1="241.2" x2="62.1" y2="241.2" stroke="#000" stroke-width="0.6" />
<line x1="60.5" y1="235.26" x2="62.1" y2="235.26" stroke="#000" stroke-width="0.6" />
<line x1="60.5" y1="229.32" x2="62.1" y2="229.32" stroke="#000" stroke-width="0.6" />
<line x1="60.5" y1="223.38" x2="62.1" y2="223.38" stroke="#000" stroke-width="0.6" />
<line x1="60.5" y1="217.44" x2="62.1" y2="217.44" stroke="#000" stroke-width="0.6" />
<line x1="60.5" y1="211.5" x2="62.1" y2="211.5" stroke="#000" stroke-width="0.6" />
<line x1="60.5" y1="205.56" x2="62.1" y2="205.56" stroke="#000" stroke-width="0.6" />
<line x1="60.5" y1="199.62" x2="62.1" y2="199.62" stroke="#000" stroke-width="0.6" />
<line x1="60.5" y1="193.68" x2="62.1" y2="193.68" stroke="#000" stroke-width="0.6" />
<line x1="60.5" y1="187.74" x2="62.1" y2="187.74" stroke="#000" stroke-width="0.6" />
<line x1="60.5" y1="181.8" x2="62.1" y2="181.8" stroke="#000" stroke-width="0.6" />
<line x1="1.2" y1="241.2" x2="1.2" y2="242.39999999999998" stroke="#000" stroke-width="0.6" />
<line x1="15.6" y1="241.2" x2="15.6" y2="242.39999999999998" stroke="#000" stroke-width="0.6" />
<line x1="30.6" y1="241.2" x2="30.6" y2="242.39999999999998" stroke="#000" stroke-width="0.6" />
<line x1="46.1" y1="241.2" x2="46.1" y2="242.39999999999998" stroke="#000" stroke-width="0.6" />
<text x="31.4" y="187" font-size="6.6" font-family='"Liberation Sans", sans-serif' font-weight="normal" text-anchor="middle"  stroke="#000" stroke-width="0.3">Lnt</text>
<rect x="4" y="239.8" width="4" height="1.3999999999999773" fill="#fff" stroke="#000" stroke-width="0.6"/>
<rect x="8" y="240.2" width="4" height="1.0" fill="#c8c8c8" stroke="#000" stroke-width="0.6"/>
<rect x="18.3" y="237.5" width="4.6" height="3.6999999999999886" fill="#c8c8c8" stroke="#000" stroke-width="0.6"/>
<rect x="22.9" y="238.5" width="4.6" height="2.6999999999999886" fill="#c8c8c8" stroke="#000" stroke-width="0.6"/>
<rect x="33.6" y="231.4" width="4.1" height="9.799999999999983" fill="#fff" stroke="#000" stroke-width="0.6"/>
<rect x="33.9" y="231.70000000000002" width="3.4999999999999996" height="5.2999999999999945" fill="#a8a8a8"/>
<line x1="35.65" y1="224.4" x2="35.65" y2="238.4" stroke="#000" stroke-width="0.6" />
<line x1="34.55" y1="224.4" x2="36.75" y2="224.4" stroke="#000" stroke-width="0.7" />
<rect x="37.7" y="236.5" width="4.1" height="4.699999999999989" fill="#fff" stroke="#000" stroke-width="0.6"/>
<rect x="48.9" y="196.3" width="4.5" height="44.89999999999998" fill="#fff" stroke="#000" stroke-width="0.6"/>
<rect x="49.199999999999996" y="196.60000000000002" width="3.9" height="9.499999999999982" fill="#a8a8a8"/>
<line x1="51.15" y1="186.6" x2="51.15" y2="206.00000000000003" stroke="#000" stroke-width="0.6" />
<line x1="50.05" y1="186.6" x2="52.25" y2="186.6" stroke="#000" stroke-width="0.7" />
<rect x="53.4" y="206.1" width="4.6" height="35.099999999999994" fill="#c8c8c8" stroke="#000" stroke-width="0.6"/>
<line x1="55.699999999999996" y1="192.7" x2="55.699999999999996" y2="219.5" stroke="#000" stroke-width="0.6" />
<line x1="54.599999999999994" y1="192.7" x2="56.8" y2="192.7" stroke="#000" stroke-width="0.7" />
<line x1="62.5" y1="241.2" x2="124.4" y2="241.2" stroke="#000" stroke-width="1.0" />
<line x1="124.4" y1="181.8" x2="124.4" y2="241.2" stroke="#000" stroke-width="1.0" />
<line x1="124.4" y1="241.2" x2="126.0" y2="241.2" stroke="#000" stroke-width="0.6" />
<line x1="124.4" y1="235.26" x2="126.0" y2="235.26" stroke="#000" stroke-width="0.6" />
<line x1="124.4" y1="229.32" x2="126.0" y2="229.32" stroke="#000" stroke-width="0.6" />
<line x1="124.4" y1="223.38" x2="126.0" y2="223.38" stroke="#000" stroke-width="0.6" />
<line x1="124.4" y1="217.44" x2="126.0" y2="217.44" stroke="#000" stroke-width="0.6" />
<line x1="124.4" y1="211.5" x2="126.0" y2="211.5" stroke="#000" stroke-width="0.6" />
<line x1="124.4" y1="205.56" x2="126.0" y2="205.56" stroke="#000" stroke-width="0.6" />
<line x1="124.4" y1="199.62" x2="126.0" y2="199.62" stroke="#000" stroke-width="0.6" />
<line x1="124.4" y1="193.68" x2="126.0" y2="193.68" stroke="#000" stroke-width="0.6" />
<line x1="124.4" y1="187.74" x2="126.0" y2="187.74" stroke="#000" stroke-width="0.6" />
<line x1="124.4" y1="181.8" x2="126.0" y2="181.8" stroke="#000" stroke-width="0.6" />
<line x1="65" y1="241.2" x2="65" y2="242.39999999999998" stroke="#000" stroke-width="0.6" />
<line x1="79.5" y1="241.2" x2="79.5" y2="242.39999999999998" stroke="#000" stroke-width="0.6" />
<line x1="94.5" y1="241.2" x2="94.5" y2="242.39999999999998" stroke="#000" stroke-width="0.6" />
<line x1="110" y1="241.2" x2="110" y2="242.39999999999998" stroke="#000" stroke-width="0.6" />
<text x="94.8" y="187" font-size="6.6" font-family='"Liberation Sans", sans-serif' font-weight="normal" text-anchor="middle"  stroke="#000" stroke-width="0.3">RANTES</text>
<rect x="67" y="240.2" width="2.6" height="1.0" fill="#fff" stroke="#000" stroke-width="0.6"/>
<rect x="69.6" y="240.4" width="2.6" height="0.799999999999983" fill="#c8c8c8" stroke="#000" stroke-width="0.6"/>
<rect x="81.3" y="239.5" width="4.6" height="1.6999999999999886" fill="#fff" stroke="#000" stroke-width="0.6"/>
<rect x="85.9" y="239.8" width="4.6" height="1.3999999999999773" fill="#c8c8c8" stroke="#000" stroke-width="0.6"/>
<rect x="96.6" y="236" width="4.5" height="5.199999999999989" fill="#fff" stroke="#000" stroke-width="0.6"/>
<rect x="101.1" y="237.7" width="5.3" height="3.5" fill="#fff" stroke="#000" stroke-width="0.6"/>
<rect x="111.9" y="204.5" width="4.7" height="36.69999999999999" fill="#fff" stroke="#000" stroke-width="0.6"/>
<line x1="114.25" y1="194.3" x2="114.25" y2="214.7" stroke="#000" stroke-width="0.6" />
<line x1="113.15" y1="194.3" x2="115.35" y2="194.3" stroke="#000" stroke-width="0.7" />
<rect x="116.6" y="198" width="5.1" height="43.19999999999999" fill="#c8c8c8" stroke="#000" stroke-width="0.6"/>
<line x1="119.14999999999999" y1="189.8" x2="119.14999999999999" y2="206.2" stroke="#000" stroke-width="0.6" />
<line x1="118.05" y1="189.8" x2="120.24999999999999" y2="189.8" stroke="#000" stroke-width="0.7" />
<line x1="127.5" y1="241.2" x2="189" y2="241.2" stroke="#000" stroke-width="1.0" />
<line x1="189" y1="181.8" x2="189" y2="241.2" stroke="#000" stroke-width="1.0" />
<line x1="189" y1="241.2" x2="190.6" y2="241.2" stroke="#000" stroke-width="0.6" />
<line x1="189" y1="235.26" x2="190.6" y2="235.26" stroke="#000" stroke-width="0.6" />
<line x1="189" y1="229.32" x2="190.6" y2="229.32" stroke="#000" stroke-width="0.6" />
<line x1="189" y1="223.38" x2="190.6" y2="223.38" stroke="#000" stroke-width="0.6" />
<line x1="189" y1="217.44" x2="190.6" y2="217.44" stroke="#000" stroke-width="0.6" />
<line x1="189" y1="211.5" x2="190.6" y2="211.5" stroke="#000" stroke-width="0.6" />
<line x1="189" y1="205.56" x2="190.6" y2="205.56" stroke="#000" stroke-width="0.6" />
<line x1="189" y1="199.62" x2="190.6" y2="199.62" stroke="#000" stroke-width="0.6" />
<line x1="189" y1="193.68" x2="190.6" y2="193.68" stroke="#000" stroke-width="0.6" />
<line x1="189" y1="187.74" x2="190.6" y2="187.74" stroke="#000" stroke-width="0.6" />
<line x1="189" y1="181.8" x2="190.6" y2="181.8" stroke="#000" stroke-width="0.6" />
<line x1="129.5" y1="241.2" x2="129.5" y2="242.39999999999998" stroke="#000" stroke-width="0.6" />
<line x1="144" y1="241.2" x2="144" y2="242.39999999999998" stroke="#000" stroke-width="0.6" />
<line x1="159" y1="241.2" x2="159" y2="242.39999999999998" stroke="#000" stroke-width="0.6" />
<line x1="174.5" y1="241.2" x2="174.5" y2="242.39999999999998" stroke="#000" stroke-width="0.6" />
<text x="158.8" y="187" font-size="6.6" font-family='"Liberation Sans", sans-serif' font-weight="normal" text-anchor="middle"  stroke="#000" stroke-width="0.3">MIP-1&#946;</text>
<rect x="132" y="240.4" width="2.1" height="0.799999999999983" fill="#fff" stroke="#000" stroke-width="0.6"/>
<rect x="134.1" y="240.6" width="2.1" height="0.5999999999999943" fill="#c8c8c8" stroke="#000" stroke-width="0.6"/>
<rect x="146.4" y="236" width="4" height="5.199999999999989" fill="#fff" stroke="#000" stroke-width="0.6"/>
<rect x="146.70000000000002" y="236.3" width="3.4" height="2.2" fill="#a8a8a8"/>
<line x1="148.4" y1="233" x2="148.4" y2="239" stroke="#000" stroke-width="0.6" />
<line x1="147.3" y1="233" x2="149.5" y2="233" stroke="#000" stroke-width="0.7" />
<rect x="150.4" y="237" width="4.1" height="4.199999999999989" fill="#fff" stroke="#000" stroke-width="0.6"/>
<line x1="152.45000000000002" y1="234" x2="152.45000000000002" y2="240" stroke="#000" stroke-width="0.6" />
<line x1="151.35000000000002" y1="234" x2="153.55" y2="234" stroke="#000" stroke-width="0.7" />
<rect x="160.6" y="235.4" width="4" height="5.799999999999983" fill="#fff" stroke="#000" stroke-width="0.6"/>
<rect x="160.9" y="235.70000000000002" width="3.4" height="2.7999999999999945" fill="#a8a8a8"/>
<line x1="162.6" y1="233" x2="162.6" y2="237.8" stroke="#000" stroke-width="0.6" />
<line x1="161.5" y1="233" x2="163.7" y2="233" stroke="#000" stroke-width="0.7" />
<rect x="164.6" y="237" width="4.2" height="4.199999999999989" fill="#fff" stroke="#000" stroke-width="0.6"/>
<line x1="166.7" y1="234.5" x2="166.7" y2="239.5" stroke="#000" stroke-width="0.6" />
<line x1="165.6" y1="234.5" x2="167.79999999999998" y2="234.5" stroke="#000" stroke-width="0.7" />
<rect x="176.4" y="199.5" width="4.7" height="41.69999999999999" fill="#fff" stroke="#000" stroke-width="0.6"/>
<rect x="176.70000000000002" y="199.8" width="4.1000000000000005" height="12.399999999999988" fill="#a8a8a8"/>
<line x1="178.75" y1="187.4" x2="178.75" y2="211.6" stroke="#000" stroke-width="0.6" />
<line x1="177.65" y1="187.4" x2="179.85" y2="187.4" stroke="#000" stroke-width="0.7" />
<rect x="181.1" y="197.9" width="4.9" height="43.29999999999998" fill="#fff" stroke="#000" stroke-width="0.6"/>
<line x1="0" y1="306.2" x2="60.5" y2="306.2" stroke="#000" stroke-width="1.0" />
<line x1="60.5" y1="245" x2="60.5" y2="306.2" stroke="#000" stroke-width="1.0" />
<line x1="60.5" y1="306.2" x2="62.1" y2="306.2" stroke="#000" stroke-width="0.6" />
<line x1="60.5" y1="300.08" x2="62.1" y2="300.08" stroke="#000" stroke-width="0.6" />
<line x1="60.5" y1="293.96" x2="62.1" y2="293.96" stroke="#000" stroke-width="0.6" />
<line x1="60.5" y1="287.84" x2="62.1" y2="287.84" stroke="#000" stroke-width="0.6" />
<line x1="60.5" y1="281.71999999999997" x2="62.1" y2="281.71999999999997" stroke="#000" stroke-width="0.6" />
<line x1="60.5" y1="275.6" x2="62.1" y2="275.6" stroke="#000" stroke-width="0.6" />
<line x1="60.5" y1="269.48" x2="62.1" y2="269.48" stroke="#000" stroke-width="0.6" />
<line x1="60.5" y1="263.36" x2="62.1" y2="263.36" stroke="#000" stroke-width="0.6" />
<line x1="60.5" y1="257.24" x2="62.1" y2="257.24" stroke="#000" stroke-width="0.6" />
<line x1="60.5" y1="251.12" x2="62.1" y2="251.12" stroke="#000" stroke-width="0.6" />
<line x1="60.5" y1="245.0" x2="62.1" y2="245.0" stroke="#000" stroke-width="0.6" />
<line x1="1.2" y1="306.2" x2="1.2" y2="307.4" stroke="#000" stroke-width="0.6" />
<line x1="15.6" y1="306.2" x2="15.6" y2="307.4" stroke="#000" stroke-width="0.6" />
<line x1="30.6" y1="306.2" x2="30.6" y2="307.4" stroke="#000" stroke-width="0.6" />
<line x1="46.1" y1="306.2" x2="46.1" y2="307.4" stroke="#000" stroke-width="0.6" />
<text x="31" y="251.8" font-size="6.6" font-family='"Liberation Sans", sans-serif' font-weight="normal" text-anchor="middle"  stroke="#000" stroke-width="0.3">MIP-1&#945;</text>
<rect x="4" y="303.7" width="4.6" height="2.5" fill="#fff" stroke="#000" stroke-width="0.6"/>
<rect x="8.6" y="304.5" width="4.6" height="1.6999999999999886" fill="#c8c8c8" stroke="#000" stroke-width="0.6"/>
<rect x="18.7" y="295.5" width="4.7" height="10.699999999999989" fill="#fff" stroke="#000" stroke-width="0.6"/>
<rect x="19.0" y="295.8" width="4.1000000000000005" height="3.7" fill="#a8a8a8"/>
<line x1="21.05" y1="291.9" x2="21.05" y2="299.1" stroke="#000" stroke-width="0.6" />
<line x1="19.95" y1="291.9" x2="22.150000000000002" y2="291.9" stroke="#000" stroke-width="0.7" />
<rect x="23.4" y="297" width="4.1" height="9.199999999999989" fill="#fff" stroke="#000" stroke-width="0.6"/>
<line x1="25.45" y1="292.3" x2="25.45" y2="301.7" stroke="#000" stroke-width="0.6" />
<line x1="24.349999999999998" y1="292.3" x2="26.55" y2="292.3" stroke="#000" stroke-width="0.7" />
<rect x="33.6" y="298.4" width="4.1" height="7.800000000000011" fill="#fff" stroke="#000" stroke-width="0.6"/>
<rect x="33.9" y="298.7" width="3.4999999999999996" height="2.800000000000023" fill="#a8a8a8"/>
<line x1="35.65" y1="297" x2="35.65" y2="299.79999999999995" stroke="#000" stroke-width="0.6" />
<line x1="34.55" y1="297" x2="36.75" y2="297" stroke="#000" stroke-width="0.7" />
<rect x="37.7" y="297.6" width="5.1" height="8.599999999999966" fill="#fff" stroke="#000" stroke-width="0.6"/>
<line x1="40.25" y1="296.5" x2="40.25" y2="298.70000000000005" stroke="#000" stroke-width="0.6" />
<line x1="39.15" y1="296.5" x2="41.35" y2="296.5" stroke="#000" stroke-width="0.7" />
<rect x="49.9" y="264.4" width="4.1" height="41.80000000000001" fill="#fff" stroke="#000" stroke-width="0.6"/>
<rect x="50.199999999999996" y="264.7" width="3.4999999999999996" height="12.900000000000045" fill="#a8a8a8"/>
<line x1="51.949999999999996" y1="253.2" x2="51.949999999999996" y2="275.59999999999997" stroke="#000" stroke-width="0.6" />
<line x1="50.849999999999994" y1="253.2" x2="53.05" y2="253.2" stroke="#000" stroke-width="0.7" />
<rect x="54" y="260.9" width="4" height="45.30000000000001" fill="#c8c8c8" stroke="#000" stroke-width="0.6"/>
<line x1="56.0" y1="257.7" x2="56.0" y2="264.09999999999997" stroke="#000" stroke-width="0.6" />
<line x1="54.9" y1="257.7" x2="57.1" y2="257.7" stroke="#000" stroke-width="0.7" />
<line x1="62.5" y1="306.2" x2="124.1" y2="306.2" stroke="#000" stroke-width="1.0" />
<line x1="124.1" y1="245" x2="124.1" y2="306.2" stroke="#000" stroke-width="1.0" />
<line x1="124.1" y1="306.2" x2="125.69999999999999" y2="306.2" stroke="#000" stroke-width="0.6" />
<line x1="124.1" y1="300.08" x2="125.69999999999999" y2="300.08" stroke="#000" stroke-width="0.6" />
<line x1="124.1" y1="293.96" x2="125.69999999999999" y2="293.96" stroke="#000" stroke-width="0.6" />
<line x1="124.1" y1="287.84" x2="125.69999999999999" y2="287.84" stroke="#000" stroke-width="0.6" />
<line x1="124.1" y1="281.71999999999997" x2="125.69999999999999" y2="281.71999999999997" stroke="#000" stroke-width="0.6" />
<line x1="124.1" y1="275.6" x2="125.69999999999999" y2="275.6" stroke="#000" stroke-width="0.6" />
<line x1="124.1" y1="269.48" x2="125.69999999999999" y2="269.48" stroke="#000" stroke-width="0.6" />
<line x1="124.1" y1="263.36" x2="125.69999999999999" y2="263.36" stroke="#000" stroke-width="0.6" />
<line x1="124.1" y1="257.24" x2="125.69999999999999" y2="257.24" stroke="#000" stroke-width="0.6" />
<line x1="124.1" y1="251.12" x2="125.69999999999999" y2="251.12" stroke="#000" stroke-width="0.6" />
<line x1="124.1" y1="245.0" x2="125.69999999999999" y2="245.0" stroke="#000" stroke-width="0.6" />
<line x1="65" y1="306.2" x2="65" y2="307.4" stroke="#000" stroke-width="0.6" />
<line x1="79.5" y1="306.2" x2="79.5" y2="307.4" stroke="#000" stroke-width="0.6" />
<line x1="94.5" y1="306.2" x2="94.5" y2="307.4" stroke="#000" stroke-width="0.6" />
<line x1="110" y1="306.2" x2="110" y2="307.4" stroke="#000" stroke-width="0.6" />
<text x="94.6" y="251.8" font-size="6.6" font-family='"Liberation Sans", sans-serif' font-weight="normal" text-anchor="middle"  stroke="#000" stroke-width="0.3">IP-10</text>
<rect x="67" y="305" width="4" height="1.1999999999999886" fill="#fff" stroke="#000" stroke-width="0.6"/>
<rect x="71" y="305.2" width="4" height="1.0" fill="#c8c8c8" stroke="#000" stroke-width="0.6"/>
<rect x="82.4" y="302.5" width="4.5" height="3.6999999999999886" fill="#fff" stroke="#000" stroke-width="0.6"/>
<rect x="86.9" y="304" width="4.6" height="2.1999999999999886" fill="#c8c8c8" stroke="#000" stroke-width="0.6"/>
<rect x="97" y="294.9" width="4.7" height="11.300000000000011" fill="#fff" stroke="#000" stroke-width="0.6"/>
<rect x="97.3" y="295.2" width="4.1000000000000005" height="3.800000000000023" fill="#a8a8a8"/>
<line x1="99.35" y1="290.9" x2="99.35" y2="298.9" stroke="#000" stroke-width="0.6" />
<line x1="98.25" y1="290.9" x2="100.44999999999999" y2="290.9" stroke="#000" stroke-width="0.7" />
<rect x="101.7" y="299" width="4.7" height="7.199999999999989" fill="#c8c8c8" stroke="#000" stroke-width="0.6"/>
<rect x="111.9" y="262.3" width="5.5" height="43.89999999999998" fill="#fff" stroke="#000" stroke-width="0.6"/>
<rect x="112.2" y="262.6" width="4.9" height="10.50000000000001" fill="#a8a8a8"/>
<line x1="114.65" y1="252.2" x2="114.65" y2="272.40000000000003" stroke="#000" stroke-width="0.6" />
<line x1="113.55000000000001" y1="252.2" x2="115.75" y2="252.2" stroke="#000" stroke-width="0.7" />
<rect x="117.4" y="266.4" width="4.7" height="39.80000000000001" fill="#c8c8c8" stroke="#000" stroke-width="0.6"/>
<line x1="119.75" y1="263.4" x2="119.75" y2="269.4" stroke="#000" stroke-width="0.6" />
<line x1="118.65" y1="263.4" x2="120.85" y2="263.4" stroke="#000" stroke-width="0.7" />
<line x1="127.5" y1="306.2" x2="188.7" y2="306.2" stroke="#000" stroke-width="1.0" />
<line x1="188.7" y1="245" x2="188.7" y2="306.2" stroke="#000" stroke-width="1.0" />
<line x1="188.7" y1="306.2" x2="190.29999999999998" y2="306.2" stroke="#000" stroke-width="0.6" />
<line x1="188.7" y1="300.08" x2="190.29999999999998" y2="300.08" stroke="#000" stroke-width="0.6" />
<line x1="188.7" y1="293.96" x2="190.29999999999998" y2="293.96" stroke="#000" stroke-width="0.6" />
<line x1="188.7" y1="287.84" x2="190.29999999999998" y2="287.84" stroke="#000" stroke-width="0.6" />
<line x1="188.7" y1="281.71999999999997" x2="190.29999999999998" y2="281.71999999999997" stroke="#000" stroke-width="0.6" />
<line x1="188.7" y1="275.6" x2="190.29999999999998" y2="275.6" stroke="#000" stroke-width="0.6" />
<line x1="188.7" y1="269.48" x2="190.29999999999998" y2="269.48" stroke="#000" stroke-width="0.6" />
<line x1="188.7" y1="263.36" x2="190.29999999999998" y2="263.36" stroke="#000" stroke-width="0.6" />
<line x1="188.7" y1="257.24" x2="190.29999999999998" y2="257.24" stroke="#000" stroke-width="0.6" />
<line x1="188.7" y1="251.12" x2="190.29999999999998" y2="251.12" stroke="#000" stroke-width="0.6" />
<line x1="188.7" y1="245.0" x2="190.29999999999998" y2="245.0" stroke="#000" stroke-width="0.6" />
<line x1="129.5" y1="306.2" x2="129.5" y2="307.4" stroke="#000" stroke-width="0.6" />
<line x1="144" y1="306.2" x2="144" y2="307.4" stroke="#000" stroke-width="0.6" />
<line x1="159" y1="306.2" x2="159" y2="307.4" stroke="#000" stroke-width="0.6" />
<line x1="174.5" y1="306.2" x2="174.5" y2="307.4" stroke="#000" stroke-width="0.6" />
<text x="159.1" y="251.8" font-size="6.6" font-family='"Liberation Sans", sans-serif' font-weight="normal" text-anchor="middle"  stroke="#000" stroke-width="0.3">MCP-1</text>
<rect x="131.1" y="303.7" width="4.6" height="2.5" fill="#fff" stroke="#000" stroke-width="0.6"/>
<rect x="135.7" y="303.9" width="4.6" height="2.3000000000000114" fill="#c8c8c8" stroke="#000" stroke-width="0.6"/>
<rect x="146.4" y="302.5" width="4.5" height="3.6999999999999886" fill="#fff" stroke="#000" stroke-width="0.6"/>
<rect x="150.9" y="302.7" width="4.6" height="3.5" fill="#c8c8c8" stroke="#000" stroke-width="0.6"/>
<rect x="161" y="299.6" width="4.1" height="6.599999999999966" fill="#fff" stroke="#000" stroke-width="0.6"/>
<line x1="163.05" y1="297.6" x2="163.05" y2="301.6" stroke="#000" stroke-width="0.6" />
<line x1="161.95000000000002" y1="297.6" x2="164.15" y2="297.6" stroke="#000" stroke-width="0.7" />
<rect x="165.1" y="301.7" width="5.3" height="4.5" fill="#c8c8c8" stroke="#000" stroke-width="0.6"/>
<rect x="176.5" y="266.4" width="4.1" height="39.80000000000001" fill="#fff" stroke="#000" stroke-width="0.6"/>
<rect x="176.8" y="266.7" width="3.4999999999999996" height="16.00000000000001" fill="#a8a8a8"/>
<line x1="178.55" y1="251.1" x2="178.55" y2="281.69999999999993" stroke="#000" stroke-width="0.6" />
<line x1="177.45000000000002" y1="251.1" x2="179.65" y2="251.1" stroke="#000" stroke-width="0.7" />
<rect x="180.6" y="265.8" width="4.9" height="40.39999999999998" fill="#c8c8c8" stroke="#000" stroke-width="0.6"/>
<line x1="183.04999999999998" y1="261.7" x2="183.04999999999998" y2="269.90000000000003" stroke="#000" stroke-width="0.6" />
<line x1="181.95" y1="261.7" x2="184.14999999999998" y2="261.7" stroke="#000" stroke-width="0.7" />
<rect x="129.7" y="194.7" width="41.9" height="25.7" fill="#fff" stroke="#000" stroke-width="0.9"/>
<rect x="133.30" y="199.60" width="3.00" height="3.60" fill="#e0e0e0" stroke="#000" stroke-width="0.7"/>
<rect x="133.30" y="212.70" width="3.00" height="3.60" fill="#fff" stroke="#000" stroke-width="0.7"/>
<text x="140.9" y="203.6" font-size="7" font-family='"Liberation Sans", sans-serif' font-weight="normal" text-anchor="start"  stroke="#000" stroke-width="0.3">Wildtype</text>
<text x="140.9" y="216.7" font-size="7" font-family='"Liberation Sans", sans-serif' font-weight="normal" text-anchor="start"  stroke="#000" stroke-width="0.3">CCR5 -/-</text>
<text x="8.8" y="315.6" font-size="6" font-family='"Liberation Sans", sans-serif' font-weight="normal" text-anchor="middle"  stroke="#000" stroke-width="0.3">0</text>
<text x="23.4" y="315.6" font-size="6" font-family='"Liberation Sans", sans-serif' font-weight="normal" text-anchor="middle"  stroke="#000" stroke-width="0.3">3</text>
<text x="38.4" y="315.6" font-size="6" font-family='"Liberation Sans", sans-serif' font-weight="normal" text-anchor="middle"  stroke="#000" stroke-width="0.3">5</text>
<text x="53.2" y="315.6" font-size="6" font-family='"Liberation Sans", sans-serif' font-weight="normal" text-anchor="middle"  stroke="#000" stroke-width="0.3">7</text>
<text x="70.3" y="315.6" font-size="6" font-family='"Liberation Sans", sans-serif' font-weight="normal" text-anchor="middle"  stroke="#000" stroke-width="0.3">0</text>
<text x="86" y="315.6" font-size="6" font-family='"Liberation Sans", sans-serif' font-weight="normal" text-anchor="middle"  stroke="#000" stroke-width="0.3">3</text>
<text x="101.5" y="315.6" font-size="6" font-family='"Liberation Sans", sans-serif' font-weight="normal" text-anchor="middle"  stroke="#000" stroke-width="0.3">5</text>
<text x="117" y="315.6" font-size="6" font-family='"Liberation Sans", sans-serif' font-weight="normal" text-anchor="middle"  stroke="#000" stroke-width="0.3">7</text>
<text x="135.5" y="315.6" font-size="6" font-family='"Liberation Sans", sans-serif' font-weight="normal" text-anchor="middle"  stroke="#000" stroke-width="0.3">0</text>
<text x="151" y="315.6" font-size="6" font-family='"Liberation Sans", sans-serif' font-weight="normal" text-anchor="middle"  stroke="#000" stroke-width="0.3">3</text>
<text x="166" y="315.6" font-size="6" font-family='"Liberation Sans", sans-serif' font-weight="normal" text-anchor="middle"  stroke="#000" stroke-width="0.3">5</text>
<text x="181.5" y="315.6" font-size="6" font-family='"Liberation Sans", sans-serif' font-weight="normal" text-anchor="middle"  stroke="#000" stroke-width="0.3">7</text>
<text x="57.7" y="330.6" font-size="8.6" font-family='"Liberation Sans", sans-serif' font-weight="normal" text-anchor="start"  stroke="#000" stroke-width="0.3">Days after infection</text>
<text transform="translate(205.3,289) rotate(-90)" font-size="8.2" font-family='"Liberation Sans", sans-serif' stroke="#000" stroke-width="0.25">Intensity [arbitrary units]</text>
<line x1="268.5" y1="241.8" x2="330.1" y2="241.8" stroke="#000" stroke-width="1.0" />
<line x1="330.1" y1="183" x2="330.1" y2="241.8" stroke="#000" stroke-width="1.0" />
<line x1="330.1" y1="241.8" x2="331.70000000000005" y2="241.8" stroke="#000" stroke-width="0.6" />
<line x1="330.1" y1="234.45000000000002" x2="331.70000000000005" y2="234.45000000000002" stroke="#000" stroke-width="0.6" />
<line x1="330.1" y1="227.10000000000002" x2="331.70000000000005" y2="227.10000000000002" stroke="#000" stroke-width="0.6" />
<line x1="330.1" y1="219.75" x2="331.70000000000005" y2="219.75" stroke="#000" stroke-width="0.6" />
<line x1="330.1" y1="212.4" x2="331.70000000000005" y2="212.4" stroke="#000" stroke-width="0.6" />
<line x1="330.1" y1="205.05" x2="331.70000000000005" y2="205.05" stroke="#000" stroke-width="0.6" />
<line x1="330.1" y1="197.7" x2="331.70000000000005" y2="197.7" stroke="#000" stroke-width="0.6" />
<line x1="330.1" y1="190.35" x2="331.70000000000005" y2="190.35" stroke="#000" stroke-width="0.6" />
<line x1="330.1" y1="183.0" x2="331.70000000000005" y2="183.0" stroke="#000" stroke-width="0.6" />
<line x1="269.4" y1="241.8" x2="269.4" y2="243.0" stroke="#000" stroke-width="0.6" />
<line x1="284.1" y1="241.8" x2="284.1" y2="243.0" stroke="#000" stroke-width="0.6" />
<line x1="299.1" y1="241.8" x2="299.1" y2="243.0" stroke="#000" stroke-width="0.6" />
<line x1="314.7" y1="241.8" x2="314.7" y2="243.0" stroke="#000" stroke-width="0.6" />
<text x="299.8" y="187.9" font-size="6.6" font-family='"Liberation Sans", sans-serif' font-weight="normal" text-anchor="middle"  stroke="#000" stroke-width="0.3">CCR1</text>
<rect x="271" y="240.7" width="3.6" height="1.1000000000000227" fill="#fff" stroke="#000" stroke-width="0.6"/>
<rect x="274.6" y="241" width="3.6" height="0.8000000000000114" fill="#c8c8c8" stroke="#000" stroke-width="0.6"/>
<rect x="287.3" y="240.1" width="3.6" height="1.700000000000017" fill="#c8c8c8" stroke="#000" stroke-width="0.6"/>
<rect x="290.9" y="240.4" width="3.6" height="1.4000000000000057" fill="#fff" stroke="#000" stroke-width="0.6"/>
<rect x="302.2" y="239.1" width="3.8" height="2.700000000000017" fill="#fff" stroke="#000" stroke-width="0.6"/>
<rect x="306" y="239.4" width="3.8" height="2.4000000000000057" fill="#fff" stroke="#000" stroke-width="0.6"/>
<rect x="317.9" y="207.5" width="4.7" height="34.30000000000001" fill="#fff" stroke="#000" stroke-width="0.6"/>
<rect x="318.2" y="207.8" width="4.1000000000000005" height="12.00000000000001" fill="#a8a8a8"/>
<line x1="320.25" y1="193.9" x2="320.25" y2="221.1" stroke="#000" stroke-width="0.6" />
<line x1="319.15" y1="193.9" x2="321.35" y2="193.9" stroke="#000" stroke-width="0.7" />
<rect x="322.6" y="215.1" width="4.5" height="26.700000000000017" fill="#c8c8c8" stroke="#000" stroke-width="0.6"/>
<line x1="324.85" y1="209.6" x2="324.85" y2="220.6" stroke="#000" stroke-width="0.6" />
<line x1="323.75" y1="209.6" x2="325.95000000000005" y2="209.6" stroke="#000" stroke-width="0.7" />
<line x1="333" y1="243.1" x2="396.2" y2="243.1" stroke="#000" stroke-width="1.0" />
<line x1="396.2" y1="183" x2="396.2" y2="243.1" stroke="#000" stroke-width="1.0" />
<line x1="396.2" y1="243.1" x2="397.8" y2="243.1" stroke="#000" stroke-width="0.6" />
<line x1="396.2" y1="235.5875" x2="397.8" y2="235.5875" stroke="#000" stroke-width="0.6" />
<line x1="396.2" y1="228.075" x2="397.8" y2="228.075" stroke="#000" stroke-width="0.6" />
<line x1="396.2" y1="220.5625" x2="397.8" y2="220.5625" stroke="#000" stroke-width="0.6" />
<line x1="396.2" y1="213.05" x2="397.8" y2="213.05" stroke="#000" stroke-width="0.6" />
<line x1="396.2" y1="205.5375" x2="397.8" y2="205.5375" stroke="#000" stroke-width="0.6" />
<line x1="396.2" y1="198.025" x2="397.8" y2="198.025" stroke="#000" stroke-width="0.6" />
<line x1="396.2" y1="190.5125" x2="397.8" y2="190.5125" stroke="#000" stroke-width="0.6" />
<line x1="396.2" y1="183.0" x2="397.8" y2="183.0" stroke="#000" stroke-width="0.6" />
<line x1="336" y1="243.1" x2="336" y2="244.29999999999998" stroke="#000" stroke-width="0.6" />
<line x1="351.5" y1="243.1" x2="351.5" y2="244.29999999999998" stroke="#000" stroke-width="0.6" />
<line x1="367" y1="243.1" x2="367" y2="244.29999999999998" stroke="#000" stroke-width="0.6" />
<line x1="382.5" y1="243.1" x2="382.5" y2="244.29999999999998" stroke="#000" stroke-width="0.6" />
<text x="367.8" y="187.9" font-size="6.6" font-family='"Liberation Sans", sans-serif' font-weight="normal" text-anchor="middle"  stroke="#000" stroke-width="0.3">CCR5</text>
<rect x="344.2" y="235.9" width="4.1" height="7.199999999999989" fill="#c8c8c8" stroke="#000" stroke-width="0.6"/>
<rect x="359.5" y="228.3" width="4.7" height="14.799999999999983" fill="#c8c8c8" stroke="#000" stroke-width="0.6"/>
<line x1="361.85" y1="226.8" x2="361.85" y2="229.8" stroke="#000" stroke-width="0.6" />
<line x1="360.75" y1="226.8" x2="362.95000000000005" y2="226.8" stroke="#000" stroke-width="0.7" />
<rect x="374.8" y="222.8" width="4.5" height="20.299999999999983" fill="#c8c8c8" stroke="#000" stroke-width="0.6"/>
<line x1="377.05" y1="220.1" x2="377.05" y2="225.50000000000003" stroke="#000" stroke-width="0.6" />
<line x1="375.95" y1="220.1" x2="378.15000000000003" y2="220.1" stroke="#000" stroke-width="0.7" />
<rect x="389.4" y="203.2" width="4.7" height="39.900000000000006" fill="#c8c8c8" stroke="#000" stroke-width="0.6"/>
<line x1="391.75" y1="193.5" x2="391.75" y2="212.89999999999998" stroke="#000" stroke-width="0.6" />
<line x1="390.65" y1="193.5" x2="392.85" y2="193.5" stroke="#000" stroke-width="0.7" />
<line x1="268.5" y1="310.5" x2="329.5" y2="310.5" stroke="#000" stroke-width="1.0" />
<line x1="329.5" y1="251.5" x2="329.5" y2="310.5" stroke="#000" stroke-width="1.0" />
<line x1="329.5" y1="310.5" x2="331.1" y2="310.5" stroke="#000" stroke-width="0.6" />
<line x1="329.5" y1="303.125" x2="331.1" y2="303.125" stroke="#000" stroke-width="0.6" />
<line x1="329.5" y1="295.75" x2="331.1" y2="295.75" stroke="#000" stroke-width="0.6" />
<line x1="329.5" y1="288.375" x2="331.1" y2="288.375" stroke="#000" stroke-width="0.6" />
<line x1="329.5" y1="281.0" x2="331.1" y2="281.0" stroke="#000" stroke-width="0.6" />
<line x1="329.5" y1="273.625" x2="331.1" y2="273.625" stroke="#000" stroke-width="0.6" />
<line x1="329.5" y1="266.25" x2="331.1" y2="266.25" stroke="#000" stroke-width="0.6" />
<line x1="329.5" y1="258.875" x2="331.1" y2="258.875" stroke="#000" stroke-width="0.6" />
<line x1="329.5" y1="251.5" x2="331.1" y2="251.5" stroke="#000" stroke-width="0.6" />
<line x1="269.4" y1="310.5" x2="269.4" y2="311.7" stroke="#000" stroke-width="0.6" />
<line x1="284.1" y1="310.5" x2="284.1" y2="311.7" stroke="#000" stroke-width="0.6" />
<line x1="299.1" y1="310.5" x2="299.1" y2="311.7" stroke="#000" stroke-width="0.6" />
<line x1="314.7" y1="310.5" x2="314.7" y2="311.7" stroke="#000" stroke-width="0.6" />
<text x="300" y="256" font-size="6.6" font-family='"Liberation Sans", sans-serif' font-weight="normal" text-anchor="middle"  stroke="#000" stroke-width="0.3">CCR2</text>
<rect x="271" y="309.3" width="4" height="1.1999999999999886" fill="#fff" stroke="#000" stroke-width="0.6"/>
<rect x="275" y="309.5" width="4" height="1.0" fill="#c8c8c8" stroke="#000" stroke-width="0.6"/>
<rect x="287.3" y="307.1" width="3.4" height="3.3999999999999773" fill="#c8c8c8" stroke="#000" stroke-width="0.6"/>
<rect x="290.7" y="307.6" width="3.4" height="2.8999999999999773" fill="#fff" stroke="#000" stroke-width="0.6"/>
<rect x="302.2" y="306.7" width="3.8" height="3.8000000000000114" fill="#fff" stroke="#000" stroke-width="0.6"/>
<rect x="306" y="307" width="3.8" height="3.5" fill="#fff" stroke="#000" stroke-width="0.6"/>
<rect x="317.9" y="292.4" width="4.1" height="18.100000000000023" fill="#fff" stroke="#000" stroke-width="0.6"/>
<rect x="318.2" y="292.7" width="3.4999999999999996" height="6.7" fill="#a8a8a8"/>
<line x1="319.95" y1="286.3" x2="319.95" y2="298.49999999999994" stroke="#000" stroke-width="0.6" />
<line x1="318.84999999999997" y1="286.3" x2="321.05" y2="286.3" stroke="#000" stroke-width="0.7" />
<rect x="322" y="276.5" width="5.1" height="34.0" fill="#c8c8c8" stroke="#000" stroke-width="0.6"/>
<line x1="324.55" y1="255.2" x2="324.55" y2="297.8" stroke="#000" stroke-width="0.6" />
<line x1="323.45" y1="255.2" x2="325.65000000000003" y2="255.2" stroke="#000" stroke-width="0.7" />
<line x1="333" y1="310.5" x2="396.2" y2="310.5" stroke="#000" stroke-width="1.0" />
<line x1="396.2" y1="251.5" x2="396.2" y2="310.5" stroke="#000" stroke-width="1.0" />
<line x1="396.2" y1="310.5" x2="397.8" y2="310.5" stroke="#000" stroke-width="0.6" />
<line x1="396.2" y1="303.125" x2="397.8" y2="303.125" stroke="#000" stroke-width="0.6" />
<line x1="396.2" y1="295.75" x2="397.8" y2="295.75" stroke="#000" stroke-width="0.6" />
<line x1="396.2" y1="288.375" x2="397.8" y2="288.375" stroke="#000" stroke-width="0.6" />
<line x1="396.2" y1="281.0" x2="397.8" y2="281.0" stroke="#000" stroke-width="0.6" />
<line x1="396.2" y1="273.625" x2="397.8" y2="273.625" stroke="#000" stroke-width="0.6" />
<line x1="396.2" y1="266.25" x2="397.8" y2="266.25" stroke="#000" stroke-width="0.6" />
<line x1="396.2" y1="258.875" x2="397.8" y2="258.875" stroke="#000" stroke-width="0.6" />
<line x1="396.2" y1="251.5" x2="397.8" y2="251.5" stroke="#000" stroke-width="0.6" />
<line x1="336" y1="310.5" x2="336" y2="311.7" stroke="#000" stroke-width="0.6" />
<line x1="351.5" y1="310.5" x2="351.5" y2="311.7" stroke="#000" stroke-width="0.6" />
<line x1="367" y1="310.5" x2="367" y2="311.7" stroke="#000" stroke-width="0.6" />
<line x1="382.5" y1="310.5" x2="382.5" y2="311.7" stroke="#000" stroke-width="0.6" />
<text x="367.6" y="255.9" font-size="6.6" font-family='"Liberation Sans", sans-serif' font-weight="normal" text-anchor="middle"  stroke="#000" stroke-width="0.3">CCR1b</text>
<rect x="339.7" y="288.8" width="4.9" height="21.69999999999999" fill="#fff" stroke="#000" stroke-width="0.6"/>
<line x1="342.15" y1="281.6" x2="342.15" y2="296.0" stroke="#000" stroke-width="0.6" />
<line x1="341.04999999999995" y1="281.6" x2="343.25" y2="281.6" stroke="#000" stroke-width="0.7" />
<rect x="354.4" y="290.8" width="5.1" height="19.69999999999999" fill="#fff" stroke="#000" stroke-width="0.6"/>
<line x1="356.95" y1="283.1" x2="356.95" y2="298.5" stroke="#000" stroke-width="0.6" />
<line x1="355.84999999999997" y1="283.1" x2="358.05" y2="283.1" stroke="#000" stroke-width="0.7" />
<rect x="370.3" y="292.4" width="4.5" height="18.100000000000023" fill="#fff" stroke="#000" stroke-width="0.6"/>
<line x1="372.55" y1="289.2" x2="372.55" y2="295.59999999999997" stroke="#000" stroke-width="0.6" />
<line x1="371.45" y1="289.2" x2="373.65000000000003" y2="289.2" stroke="#000" stroke-width="0.7" />
<rect x="385.4" y="272.1" width="4.6" height="38.39999999999998" fill="#fff" stroke="#000" stroke-width="0.6"/>
<line x1="387.7" y1="259.2" x2="387.7" y2="285.00000000000006" stroke="#000" stroke-width="0.6" />
<line x1="386.59999999999997" y1="259.2" x2="388.8" y2="259.2" stroke="#000" stroke-width="0.7" />
<rect x="272.4" y="197.4" width="41.2" height="25.3" fill="#fff" stroke="#000" stroke-width="0.9"/>
<rect x="275.60" y="202.20" width="3.10" height="3.30" fill="#e0e0e0" stroke="#000" stroke-width="0.7"/>
<rect x="275.60" y="214.70" width="3.10" height="3.30" fill="#fff" stroke="#000" stroke-width="0.7"/>
<text x="283.3" y="206.2" font-size="7" font-family='"Liberation Sans", sans-serif' font-weight="normal" text-anchor="start"  stroke="#000" stroke-width="0.3">Wildtype</text>
<text x="283.3" y="219" font-size="7" font-family='"Liberation Sans", sans-serif' font-weight="normal" text-anchor="start"  stroke="#000" stroke-width="0.3">CCR5 -/-</text>
<text x="277.1" y="319.4" font-size="6" font-family='"Liberation Sans", sans-serif' font-weight="normal" text-anchor="middle"  stroke="#000" stroke-width="0.3">0</text>
<text x="292" y="319.4" font-size="6" font-family='"Liberation Sans", sans-serif' font-weight="normal" text-anchor="middle"  stroke="#000" stroke-width="0.3">3</text>
<text x="307.4" y="319.4" font-size="6" font-family='"Liberation Sans", sans-serif' font-weight="normal" text-anchor="middle"  stroke="#000" stroke-width="0.3">5</text>
<text x="322.3" y="319.4" font-size="6" font-family='"Liberation Sans", sans-serif' font-weight="normal" text-anchor="middle"  stroke="#000" stroke-width="0.3">7</text>
<text x="344.8" y="319.4" font-size="6" font-family='"Liberation Sans", sans-serif' font-weight="normal" text-anchor="middle"  stroke="#000" stroke-width="0.3">0</text>
<text x="360" y="319.4" font-size="6" font-family='"Liberation Sans", sans-serif' font-weight="normal" text-anchor="middle"  stroke="#000" stroke-width="0.3">3</text>
<text x="375" y="319.4" font-size="6" font-family='"Liberation Sans", sans-serif' font-weight="normal" text-anchor="middle"  stroke="#000" stroke-width="0.3">5</text>
<text x="390" y="319.4" font-size="6" font-family='"Liberation Sans", sans-serif' font-weight="normal" text-anchor="middle"  stroke="#000" stroke-width="0.3">7</text>
<text x="296.7" y="330" font-size="8.6" font-family='"Liberation Sans", sans-serif' font-weight="normal" text-anchor="start"  stroke="#000" stroke-width="0.3">Days after infection</text>
<text transform="translate(410.2,290) rotate(-90)" font-size="8.2" font-family='"Liberation Sans", sans-serif' stroke="#000" stroke-width="0.25">Intensity [arbitrary units]</text>
</g>
</svg></body></html>
